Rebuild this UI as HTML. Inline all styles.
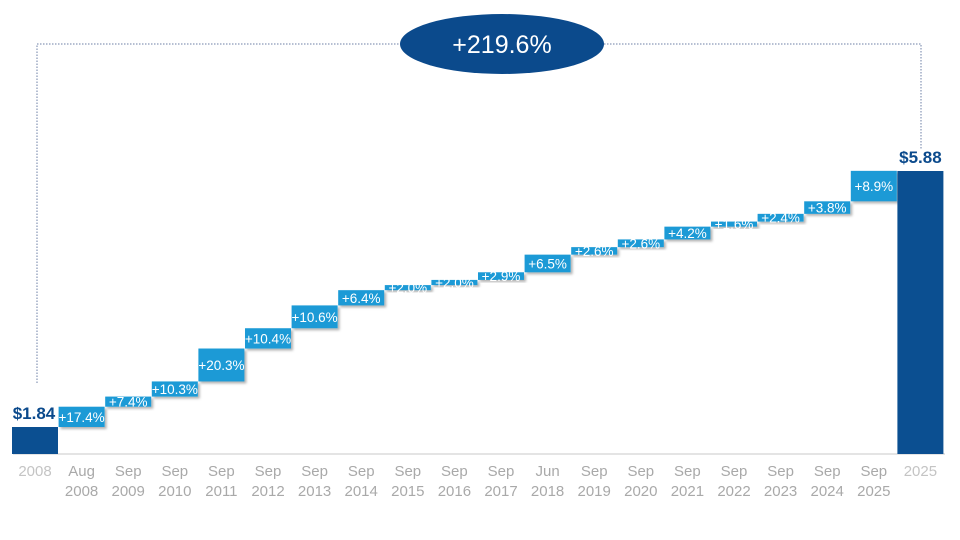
<!DOCTYPE html>
<html><head><meta charset="utf-8"><style>
html,body{margin:0;padding:0;background:#fff;}
svg{display:block;font-family:"Liberation Sans",sans-serif;}
</style></head><body>
<svg id="c" width="960" height="540" viewBox="0 0 960 540" xmlns="http://www.w3.org/2000/svg">
<defs><filter id="sh" x="-10%" y="-10%" width="130%" height="150%"><feDropShadow dx="2" dy="2" stdDeviation="1.2" flood-color="#000" flood-opacity="0.3"/></filter></defs>
<line x1="13" y1="454" x2="945" y2="454" stroke="#c8c8c8" stroke-width="1"/>
<path d="M37 383 V44 H400 M604 44 H921 V150" fill="none" stroke="#6d7fa6" stroke-width="1" stroke-dasharray="1.5,1.5"/>
<ellipse cx="502" cy="44" rx="102" ry="30" fill="#0b4a8c"/>
<text x="502" y="53" fill="#fff" font-size="25" text-anchor="middle">+219.6%</text>
<g id="g"></g>
</svg>
<script>
var pct=[17.4,7.4,10.3,20.3,10.4,10.6,6.4,2.0,2.0,2.9,6.5,2.6,2.6,4.2,1.6,2.4,3.8,8.9];
var l1=["2008","Aug","Sep","Sep","Sep","Sep","Sep","Sep","Sep","Sep","Sep","Jun","Sep","Sep","Sep","Sep","Sep","Sep","Sep","2025"];
var l2=["","2008","2009","2010","2011","2012","2013","2014","2015","2016","2017","2018","2019","2020","2021","2022","2023","2024","2025",""];
function Y(v){return 427-(v-1.84)*(256/4.04);}
var s="",v=1.84,step=46.6,w=46;
function cx(i){return 35+i*step;}
s+='<rect x="'+(cx(0)-w/2)+'" y="427" width="'+w+'" height="27" fill="#0b4f91"/>';
s+='<text x="'+(cx(0)-1)+'" y="419" fill="#0b4a8c" font-size="17" font-weight="bold" text-anchor="middle">$1.84</text>';
for(var i=0;i<pct.length;i++){
 var nv=v*(1+pct[i]/100),y1=Y(nv),y0=Y(v),x=cx(i+1)-w/2;
 s+='<rect x="'+x+'" y="'+y1+'" width="'+w+'" height="'+(y0-y1)+'" fill="#1a9ad6" filter="url(#sh)"/>';
 s+='<text x="'+cx(i+1)+'" y="'+((y0+y1)/2+5)+'" fill="#fff" font-size="13.5" text-anchor="middle">+'+pct[i].toFixed(1)+'%</text>';
 v=nv;
}
s+='<rect x="'+(cx(19)-w/2)+'" y="171" width="'+w+'" height="283" fill="#0b4f91"/>';
s+='<text x="'+cx(19)+'" y="163" fill="#0b4a8c" font-size="17" font-weight="bold" text-anchor="middle">$5.88</text>';
for(var i=0;i<20;i++){
 var col=(i==0||i==19)?"#c4c4c4":"#a9a9a9";
 if(l2[i]===""){s+='<text x="'+cx(i)+'" y="476" fill="'+col+'" font-size="15" text-anchor="middle">'+l1[i]+'</text>';}
 else{s+='<text x="'+cx(i)+'" y="476" fill="'+col+'" font-size="15" text-anchor="middle">'+l1[i]+'</text><text x="'+cx(i)+'" y="496" fill="'+col+'" font-size="15" text-anchor="middle">'+l2[i]+'</text>';}
}
document.getElementById("g").innerHTML=s;
</script>
</body></html>
